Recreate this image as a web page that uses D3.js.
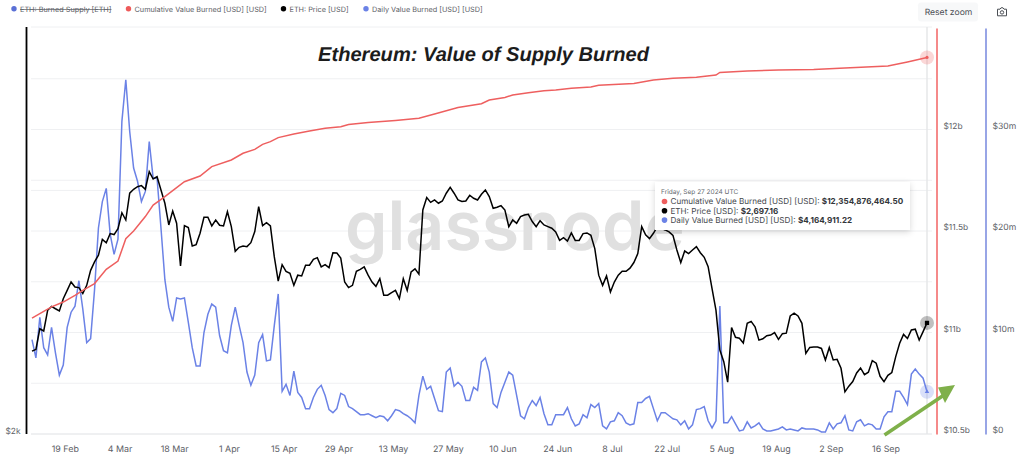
<!DOCTYPE html>
<html>
<head>
<meta charset="utf-8">
<script src="https://cdn.jsdelivr.net/npm/d3@7"></script>
<style>
   html, body { margin: 0; padding: 0; background: #fff; }
   text { font-family: Inter, sans-serif; text-rendering: geometricPrecision; }
</style>
</head>
<body>
<div id="chart"></div>
<script>
// dates are daily, counted from the first day of the chart
const firstDay = '2024-02-11'
const lastDay = '2024-09-27'

const tickDates = ['2024-02-19', '2024-03-04', '2024-03-18', '2024-04-01', '2024-04-15', '2024-04-29', '2024-05-13', '2024-05-27',
   '2024-06-10', '2024-06-24', '2024-07-08', '2024-07-22', '2024-08-05', '2024-08-19', '2024-09-02', '2024-09-16']
const tickLabels = ['19 Feb', '4 Mar', '18 Mar', '1 Apr', '15 Apr', '29 Apr', '13 May', '27 May',
   '10 Jun', '24 Jun', '8 Jul', '22 Jul', '5 Aug', '19 Aug', '2 Sep', '16 Sep']

// ETH price, USD per day
const price = [
   2500, 2511, 2655, 2639, 2790, 2820, 2802, 2785, 2879, 2944,
   3011, 2971, 2966, 2919, 2984, 3107, 3178, 3236, 3377, 3347,
   3430, 3421, 3476, 3628, 3558, 3824, 3865, 3892, 3903, 3865,
   4052, 3973, 3998, 3858, 3722, 3511, 3645, 3527, 3144, 3505,
   3486, 3318, 3330, 3433, 3584, 3584, 3502, 3558, 3508, 3502,
   3638, 3495, 3270, 3306, 3318, 3312, 3347, 3449, 3688, 3505,
   3533, 3502, 3221, 3019, 3155, 3099, 3083, 2984, 3067, 3061,
   3150, 3150, 3201, 3215, 3136, 3155, 3130, 3258, 3255, 3212,
   3011, 2966, 2984, 3099, 3115, 3136, 3067, 3011, 2976, 3038,
   2906, 2906, 2926, 2944, 2879, 3038, 2944, 3094, 3120, 3075,
   3655, 3780, 3731, 3755, 3722, 3745, 3824, 3885, 3824, 3755,
   3739, 3745, 3803, 3772, 3755, 3813, 3858, 3789, 3672, 3682,
   3698, 3655, 3495, 3558, 3527, 3590, 3606, 3613, 3543, 3495,
   3552, 3511, 3495, 3480, 3446, 3368, 3392, 3362, 3436, 3368,
   3368, 3430, 3436, 3414, 3294, 3067, 2984, 3061, 2931, 3011,
   3067, 3099, 3099, 3125, 3173, 3250, 3495, 3418, 3384, 3433,
   3495, 3480, 3464, 3446, 3414, 3282, 3173, 3273, 3250, 3282,
   3312, 3258, 3218, 3138, 2958, 2792, 2507, 2430, 2300, 2664,
   2595, 2588, 2555, 2694, 2708, 2669, 2575, 2584, 2606, 2610,
   2628, 2580, 2620, 2624, 2748, 2769, 2748, 2694, 2485, 2525,
   2528, 2528, 2518, 2441, 2525, 2441, 2445, 2387, 2240, 2275,
   2303, 2357, 2389, 2346, 2362, 2437, 2420, 2336, 2303, 2342,
   2360, 2463, 2553, 2615, 2586, 2646, 2652, 2575, 2635, 2697.16
]

// daily value burned, USD millions
const dailyBurn = [
   9.3, 7.5, 11.5, 8.5, 7.8, 10.5, 8.0, 5.8, 6.8, 10.5,
   12.0, 12.6, 15.1, 12.3, 9.0, 9.4, 14.2, 20.3, 22.9, 24.2,
   19.7, 17.7, 19.2, 30.8, 34.9, 29.8, 26.2, 24.9, 22.9, 23.9,
   28.8, 25.2, 25.2, 20.3, 15.2, 12.5, 11.1, 13.4, 13.3, 13.4,
   11.0, 8.5, 6.7, 6.7, 10.0, 11.8, 12.8, 12.5, 9.7, 8.2,
   8.0, 10.7, 12.5, 10.7, 9.0, 6.1, 4.8, 5.8, 9.0, 9.8,
   7.2, 7.3, 10.7, 13.8, 4.2, 4.9, 3.8, 6.2, 4.1, 3.6,
   2.5, 2.5, 3.6, 4.4, 4.8, 3.8, 2.4, 2.1, 2.5, 4.0,
   3.8, 2.7, 2.5, 2.2, 1.9, 1.9, 2.0, 1.8, 1.6, 1.8,
   1.7, 1.3, 1.8, 2.4, 2.3, 2.0, 1.8, 1.5, 1.1, 3.8,
   5.7, 4.4, 4.7, 3.5, 2.3, 2.2, 6.1, 6.5, 4.7, 5.1,
   4.7, 3.3, 3.3, 4.6, 4.3, 7.1, 7.5, 6.1, 3.0, 2.6,
   4.1, 5.1, 6.1, 5.8, 3.8, 1.8, 1.5, 2.6, 3.3, 2.8,
   3.6, 2.0, 0.9, 0.9, 1.9, 1.9, 1.9, 2.6, 1.5, 0.8,
   1.0, 1.9, 1.6, 2.9, 2.6, 3.0, 0.8, 0.5, 1.2, 1.3,
   2.1, 1.8, 1.1, 0.9, 1.0, 3.1, 3.1, 3.5, 3.7, 2.5,
   1.3, 2.1, 2.1, 1.8, 1.5, 1.4, 0.9, 1.3, 0.5, 0.9,
   2.4, 2.5, 2.7, 1.3, 0.6, 1.3, 12.6, 1.1, 1.1, 1.7,
   1.0, 0.3, 0.4, 1.2, 0.6, 0.8, 1.1, 0.5, 0.3, 0.3,
   0.4, 0.5, 0.7, 0.4, 0.5, 0.4, 0.3, 0.6, 0.5, 0.5,
   0.5, 0.4, 0.2, 0.2, 1.1, 0.5, 1.0, 1.1, 1.8, 0.4,
   0.3, 1.2, 1.4, 0.8, 1.0, 0.9, 0.5, 0.5, 1.7, 2.2,
   2.2, 4.2, 4.2, 3.6, 2.9, 5.9, 6.4, 5.9, 5.5, 4.16
]

// cumulative value burned, USD billions, read at these day offsets
const cumDays = [0, 5, 8, 11, 13, 16, 19, 22, 24, 26, 29, 31, 34, 36, 39, 43, 46, 51, 54, 57,
   59, 61, 63, 67, 71, 75, 79, 81, 86, 93, 99, 103, 109, 115, 117, 121, 123, 127, 131, 134,
   138, 143, 145, 154, 159, 164, 170, 175, 176, 183, 191, 200, 208, 219, 224, 229]
const cumBurn = [11.071, 11.126, 11.150, 11.183, 11.208, 11.241, 11.311, 11.352, 11.462, 11.500,
   11.571, 11.628, 11.669, 11.699, 11.743, 11.771, 11.817, 11.850, 11.883, 11.902,
   11.927, 11.940, 11.960, 11.978, 11.993, 12.006, 12.014, 12.025, 12.034, 12.044,
   12.055, 12.076, 12.108, 12.127, 12.145, 12.158, 12.170, 12.181, 12.191, 12.195,
   12.203, 12.209, 12.218, 12.227, 12.244, 12.252, 12.257, 12.268, 12.281, 12.288,
   12.293, 12.296, 12.303, 12.313, 12.333, 12.3549]

const cumTicks = [10.5, 11, 11.5, 12]
const cumTickLabels = ['$10.5b', '$11b', '$11.5b', '$12b']
const dailyTicks = [0, 10, 20, 30]
const dailyTickLabels = ['$0', '$10m', '$20m', '$30m']
const gridValues = [10.5, 10.75, 11, 11.25, 11.5, 11.7, 11.75, 12, 12.25]

const legendNames = ['ETH: Burned Supply [ETH]', 'Cumulative Value Burned [USD] [USD]', 'ETH: Price [USD]', 'Daily Value Burned [USD] [USD]']
const legendColors = ['#5a70d6', '#ee5a5a', '#000000', '#6b82e6']

const tooltipNames = ['Cumulative Value Burned [USD] [USD]: ', 'ETH: Price [USD]: ', 'Daily Value Burned [USD] [USD]: ']
const tooltipValues = ['$12,354,876,464.50', '$2,697.16', '$4,164,911.22']

const redLine = '#ee5f5f'
const blueLine = '#6b82e6'

const width = 1024
const height = 463
const plotTop = 27
const plotBottom = 434
const plotLeft = 31
const plotRight = 932

const svg = d3.select('#chart').append('svg')
   .attr('width', width)
   .attr('height', height)
   .style('display', 'block')

const parse = d3.utcParse('%Y-%m-%d')
const dayAt = i => d3.utcDay.offset(parse(firstDay), i)

const x = d3.scaleUtc()
   .domain([parse(firstDay), parse(lastDay)])
   .range([32, 927])

// same pixel span on all three value scales, price is on a log scale
const yCum = d3.scaleLinear().domain([10.5, 12.5]).range([plotBottom, 28])
const yDaily = d3.scaleLinear().domain([0, 40]).range([plotBottom, 28])
const yPrice = d3.scaleLog().domain([2000, 4000]).range([plotBottom, 176.5])

// gridlines
svg.append('g').selectAll('line')
   .data(gridValues)
   .enter().append('line')
      .attr('x1', plotLeft)
      .attr('x2', plotRight)
      .attr('y1', d => yCum(d))
      .attr('y2', d => yCum(d))
      .attr('stroke', d => d == 10.5 ? '#dfe1e4' : '#eff0f2')
      .attr('stroke-width', 1)

svg.append('line')
   .attr('x1', plotLeft).attr('x2', plotRight)
   .attr('y1', plotTop).attr('y2', plotTop)
   .attr('stroke', '#eff0f2')

// watermark
svg.append('text')
   .attr('x', 345)
   .attr('y', 250)
   .attr('font-size', 68)
   .attr('font-weight', 600)
   .style('font-family', 'Inter')
   .attr('fill', '#e0e0e0')
   .text('glassnode')

// crosshair on the hovered day
svg.append('line')
   .attr('x1', x(parse(lastDay))).attr('x2', x(parse(lastDay)))
   .attr('y1', plotTop).attr('y2', plotBottom)
   .attr('stroke', '#e6e7e9')
   .attr('stroke-width', 1.5)

// lines
const lineCum = d3.line().x((d, i) => x(dayAt(cumDays[i]))).y(d => yCum(d))
const linePrice = d3.line().x((d, i) => x(dayAt(i))).y(d => yPrice(d))
const lineDaily = d3.line().x((d, i) => x(dayAt(i))).y(d => yDaily(d))

svg.append('path').attr('d', lineDaily(dailyBurn))
   .attr('fill', 'none').attr('stroke', blueLine).attr('stroke-width', 1.5)
svg.append('path').attr('d', linePrice(price))
   .attr('fill', 'none').attr('stroke', '#000').attr('stroke-width', 1.5)
svg.append('path').attr('d', lineCum(cumBurn))
   .attr('fill', 'none').attr('stroke', redLine).attr('stroke-width', 1.5)

// hover markers
const endX = x(parse(lastDay))
const endCum = yCum(cumBurn[cumBurn.length - 1])
const endPrice = yPrice(price[price.length - 1])
const endDaily = yDaily(dailyBurn[dailyBurn.length - 1])

svg.append('circle').attr('cx', endX).attr('cy', endCum).attr('r', 7).attr('fill', redLine).attr('opacity', 0.25)
svg.append('circle').attr('cx', endX).attr('cy', endCum).attr('r', 1.6).attr('fill', redLine)
svg.append('circle').attr('cx', endX).attr('cy', endPrice).attr('r', 7).attr('fill', '#000').attr('opacity', 0.25)
svg.append('path').attr('transform', `translate(${endX},${endPrice})`).attr('d', d3.symbol(d3.symbolSquare, 18)).attr('fill', '#000')
svg.append('circle').attr('cx', endX).attr('cy', endDaily).attr('r', 7).attr('fill', blueLine).attr('opacity', 0.25)
svg.append('path').attr('transform', `translate(${endX},${endDaily})`).attr('d', d3.symbol(d3.symbolTriangle, 9)).attr('fill', blueLine)

// x axis
svg.append('g')
   .attr('transform', `translate(1.5,${plotBottom})`)
   .call(d3.axisBottom(x)
      .tickValues(tickDates.map(parse))
      .tickFormat((d, i) => tickLabels[i])
      .tickSize(0)
      .tickPadding(12))
   .call(g => g.select('.domain').remove())
   .call(g => g.selectAll('text').attr('font-size', 8.9).attr('fill', '#5c6066').style('font-family', 'Inter'))

// left axis, only the $2k label is shown
svg.append('line')
   .attr('x1', 26.5).attr('x2', 26.5)
   .attr('y1', plotTop).attr('y2', plotBottom)
   .attr('stroke', '#000').attr('stroke-width', 1.8)

svg.append('g')
   .attr('transform', 'translate(26.5,0)')
   .call(d3.axisLeft(yPrice).tickValues([2000]).tickFormat(() => '$2k').tickSize(0).tickPadding(6))
   .call(g => g.select('.domain').remove())
   .call(g => g.selectAll('text').attr('font-size', 8.4).attr('fill', '#5c6066').attr('dy', '-0.05em').style('font-family', 'Inter'))

// right axes
svg.append('g')
   .attr('transform', 'translate(936.5,0)')
   .call(d3.axisRight(yCum).tickValues(cumTicks).tickFormat((d, i) => cumTickLabels[i]).tickSize(0).tickPadding(7))
   .call(g => g.select('.domain').attr('stroke', '#f58a8a').attr('stroke-width', 2))
   .call(g => g.selectAll('text').attr('font-size', 8.4).attr('fill', '#5c6066').attr('dy', '-0.15em').style('font-family', 'Inter'))

svg.append('g')
   .attr('transform', 'translate(985.5,0)')
   .call(d3.axisRight(yDaily).tickValues(dailyTicks).tickFormat((d, i) => dailyTickLabels[i]).tickSize(0).tickPadding(7))
   .call(g => g.select('.domain').attr('stroke', '#98a5e6').attr('stroke-width', 2))
   .call(g => g.selectAll('text').attr('font-size', 8.6).attr('fill', '#5c6066').attr('dy', '-0.15em').style('font-family', 'Inter'))

// title
svg.append('text')
   .attr('x', 483.5)
   .attr('y', 60.5)
   .attr('text-anchor', 'middle')
   .attr('font-size', 20.1)
   .attr('font-weight', 700)
   .attr('font-style', 'italic')
   .style('font-family', 'Liberation Sans')
   .attr('fill', '#1c1c1c')
   .text('Ethereum: Value of Supply Burned')

// legend
const legendX = [14, 128.5, 283.5, 366]
const legend = svg.append('g').selectAll('g')
   .data(legendNames)
   .enter().append('g')
      .attr('transform', (d, i) => `translate(${legendX[i]},8.7)`)

legend.append('circle')
   .attr('r', 2.7)
   .attr('fill', (d, i) => legendColors[i])

legend.append('text')
   .attr('x', 6)
   .attr('y', 3)
   .attr('font-size', 7.3)
   .attr('fill', '#5c6066')
   .attr('text-decoration', (d, i) => i == 0 ? 'line-through' : null)
   .text(d => d)

// reset zoom button and camera icon
svg.append('rect')
   .attr('x', 918).attr('y', 2.5).attr('width', 60).attr('height', 19).attr('rx', 3)
   .attr('fill', '#f7f8f9')
svg.append('text')
   .attr('x', 948.5).attr('y', 15)
   .attr('text-anchor', 'middle')
   .attr('font-size', 8.6)
   .attr('fill', '#4b4f55')
   .text('Reset zoom')

const camera = svg.append('g').attr('transform', 'translate(1002,12)')
   .attr('fill', 'none').attr('stroke', '#4b4f55').attr('stroke-width', 1)
camera.append('path').attr('d', 'M-4.5,-2.8 H-2 L-1,-4.2 H1 L2,-2.8 H4.5 V3.8 H-4.5 Z')
camera.append('circle').attr('cx', 0).attr('cy', 0.4).attr('r', 1.7)

// tooltip
const defs = svg.append('defs')
const shadow = defs.append('filter').attr('id', 'tipShadow').attr('x', '-10%').attr('y', '-20%').attr('width', '120%').attr('height', '150%')
shadow.append('feDropShadow').attr('dx', 0).attr('dy', 2).attr('stdDeviation', 3).attr('flood-color', '#000').attr('flood-opacity', 0.16)

const tip = svg.append('g').attr('transform', 'translate(655,182)')
tip.append('rect')
   .attr('width', 255).attr('height', 48)
   .attr('fill', '#fff')
   .attr('filter', 'url(#tipShadow)')
tip.append('text')
   .attr('x', 6).attr('y', 12)
   .attr('font-size', 6.5)
   .attr('fill', '#666a70')
   .text('Friday, Sep 27 2024 UTC')

const tipColors = [redLine, '#000', blueLine]
const tipRows = tip.selectAll('.row')
   .data(tooltipNames)
   .enter().append('g')
      .attr('class', 'row')
      .attr('transform', (d, i) => `translate(0,${19.5 + i * 9.3})`)
tipRows.append('circle').attr('cx', 9.5).attr('cy', 0).attr('r', 2.8).attr('fill', (d, i) => tipColors[i])
const tipText = tipRows.append('text')
   .attr('x', 15.5).attr('y', 2.9)
   .attr('font-size', 8.1)
   .attr('fill', '#44474c')
tipText.append('tspan').text(d => d)
tipText.append('tspan').attr('font-weight', 700).attr('fill', '#33363a').text((d, i) => tooltipValues[i])

// green arrow added on top of the screenshot
svg.append('line')
   .attr('x1', 884.5).attr('y1', 435)
   .attr('x2', 944).attr('y2', 395)
   .attr('stroke', '#7fb04a')
   .attr('stroke-width', 3.6)
svg.append('path')
   .attr('d', 'M955,385 L938,387.5 L945,403 Z')
   .attr('fill', '#7fb04a')
</script>
</body>
</html>
